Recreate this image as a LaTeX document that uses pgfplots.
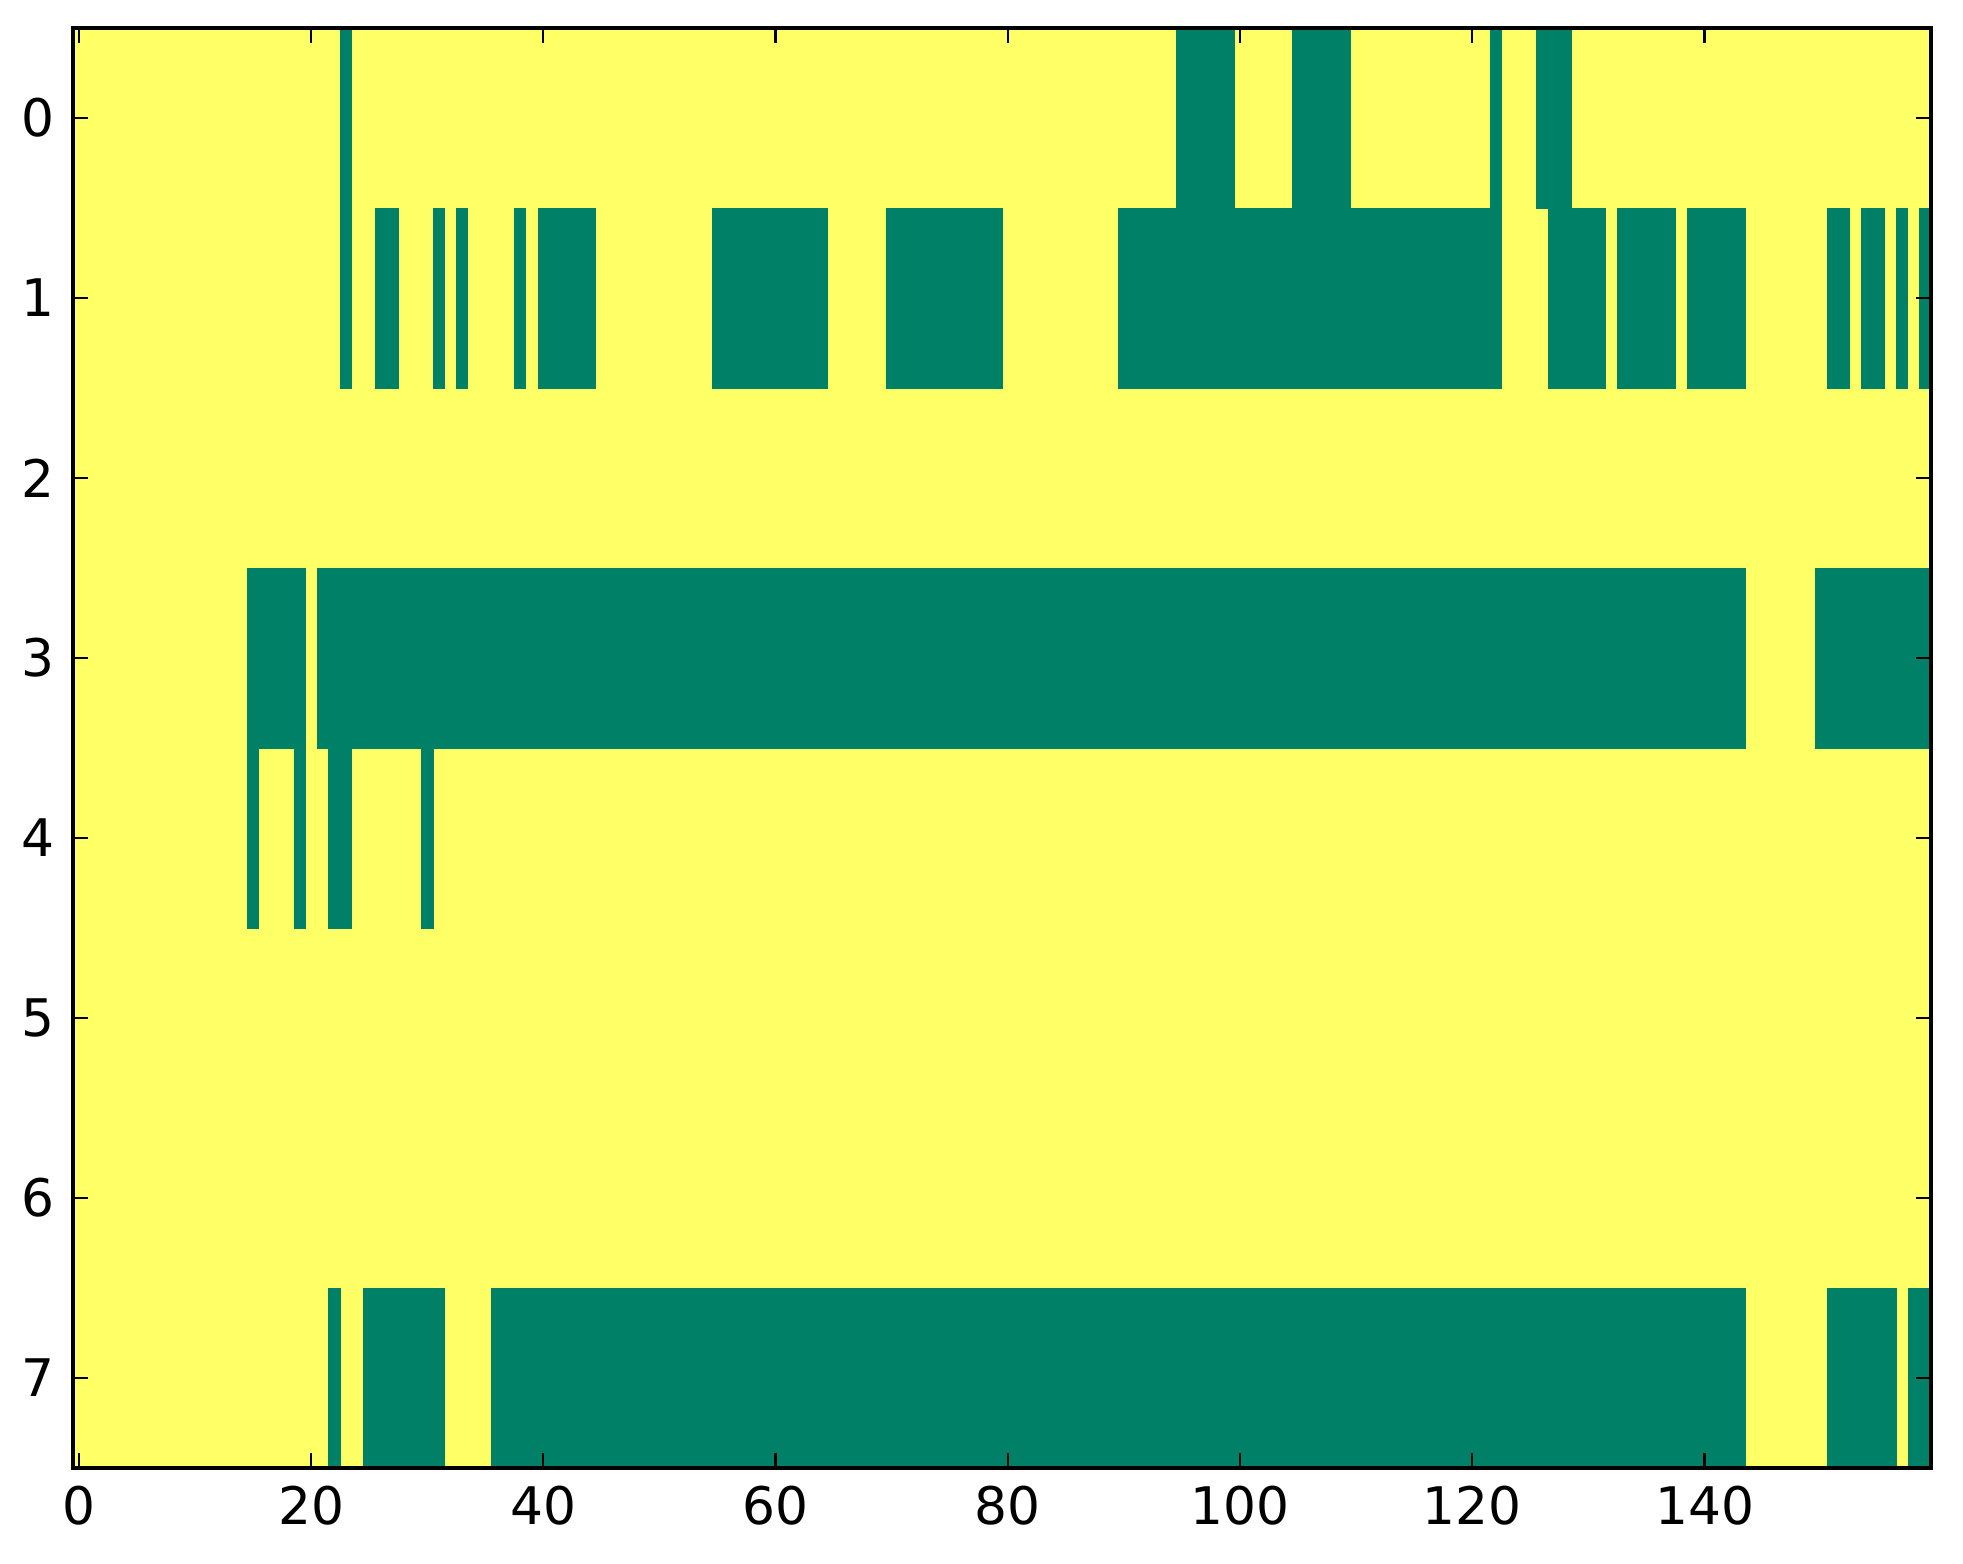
\documentclass[border=0pt]{standalone}
\usepackage{fontspec}
\setmainfont{DejaVu Sans}
\usepackage{pgfplots}
\pgfplotsset{compat=1.18}
\definecolor{cgreen}{RGB}{0,128,102}
\definecolor{cyellow}{RGB}{255,255,102}

% one green run of cells: row, first column, last column
\newcommand{\run}[3]{%
  \pgfmathsetmacro\xa{#2-0.5}\pgfmathsetmacro\xb{#3+0.5}%
  \pgfmathsetmacro\ya{#1-0.5}\pgfmathsetmacro\yb{#1+0.5}%
  \edef\tmp{\noexpand\addplot[fill=cgreen, draw=cgreen, line width=0.2pt, forget plot]
    coordinates {(\xa,\ya) (\xb,\ya) (\xb,\yb) (\xa,\yb)};}\tmp}

\begin{document}
\fontsize{13}{15}\selectfont
\begin{tikzpicture}
\begin{axis}[
  scale only axis,
  width=464.5bp, height=360bp,
  xmin=-0.5, xmax=159.5,
  ymin=-0.5, ymax=7.5,
  y dir=reverse,
  xtick={0,20,...,140},
  ytick={0,...,7},
  tick align=inside,
  tick pos=both,
  major tick length=3.75bp,
  every tick/.style={black, line width=0.55bp},
  axis background/.style={fill=cyellow},
  axis on top,
  tick label style={font=\fontsize{13}{15}\selectfont},
  /pgf/number format/assume math mode=true,
]
  % row 0
  \run{0}{23}{23} \run{0}{95}{99} \run{0}{105}{109} \run{0}{122}{122} \run{0}{126}{128}
  % row 1
  \run{1}{23}{23} \run{1}{26}{27} \run{1}{31}{31} \run{1}{33}{33} \run{1}{38}{38}
  \run{1}{40}{44} \run{1}{55}{64} \run{1}{70}{79} \run{1}{90}{122} \run{1}{127}{131}
  \run{1}{133}{137} \run{1}{139}{143} \run{1}{151}{152} \run{1}{154}{155}
  \run{1}{157}{157} \run{1}{159}{159}
  % row 3
  \run{3}{15}{19} \run{3}{21}{143} \run{3}{150}{159}
  % row 4
  \run{4}{15}{15} \run{4}{19}{19} \run{4}{22}{23} \run{4}{30}{30}
  % row 7
  \run{7}{22}{22} \run{7}{25}{31} \run{7}{36}{143} \run{7}{151}{156} \run{7}{158}{159}
  \coordinate (bl) at (axis cs:-0.5,7.5);
  \coordinate (tr) at (axis cs:159.5,-0.5);
\end{axis}
\draw[line width=1.1bp] (bl) rectangle (tr);
\pgfresetboundingbox
\path[use as bounding box] ([shift={(-18.25bp,-24bp)}]bl) rectangle ([shift={(8bp,7bp)}]tr);
\end{tikzpicture}
\end{document}
